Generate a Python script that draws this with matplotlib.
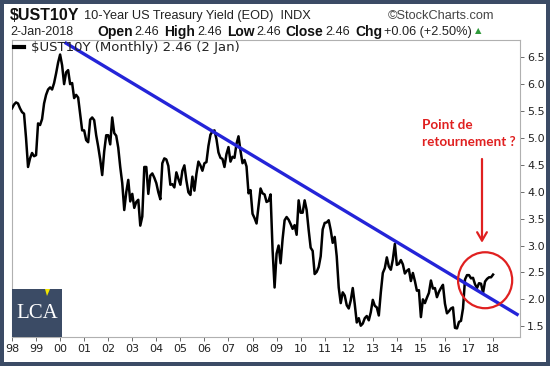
import numpy as np
import matplotlib
matplotlib.use("Agg")
import matplotlib.pyplot as plt
from matplotlib.patches import Ellipse, Rectangle, Polygon

# monthly closes of the 10 year yield, Jan 1998 .. Jan 2018
start_year = 1998
ust10y = [
    5.55, 5.62, 5.66, 5.64, 5.55, 5.48, 5.45, 5.00, 4.46, 4.62, 4.72, 4.66,  # 1998
    4.68, 5.27, 5.24, 5.35, 5.64, 5.80, 5.90, 5.94, 5.90, 6.02, 6.20, 6.40,  # 1999
    6.55, 6.35, 6.00, 6.22, 6.26, 6.00, 6.02, 5.74, 5.80, 5.75, 5.45, 5.14,  # 2000
    5.14, 4.96, 4.92, 5.34, 5.38, 5.33, 5.05, 4.84, 4.60, 4.31, 4.75, 5.05,  # 2001
    5.05, 4.88, 5.38, 5.09, 5.04, 4.82, 4.46, 4.16, 3.66, 3.99, 4.22, 3.82,  # 2002
    3.96, 3.70, 3.81, 3.85, 3.37, 3.54, 4.46, 4.46, 3.96, 4.30, 4.34, 4.26,  # 2003
    4.16, 3.99, 3.86, 4.53, 4.62, 4.60, 4.48, 4.13, 4.14, 4.08, 4.36, 4.24,  # 2004
    4.13, 4.39, 4.49, 4.21, 3.99, 3.94, 4.28, 4.02, 4.33, 4.56, 4.49, 4.39,  # 2005
    4.53, 4.55, 4.85, 5.06, 5.12, 5.14, 4.98, 4.73, 4.63, 4.61, 4.46, 4.70,  # 2006
    4.83, 4.56, 4.65, 4.63, 4.89, 5.03, 4.76, 4.53, 4.59, 4.47, 3.97, 4.03,  # 2007
    3.59, 3.51, 3.41, 3.73, 4.06, 3.97, 3.95, 3.81, 3.83, 3.95, 2.92, 2.22,  # 2008
    2.85, 3.00, 2.67, 3.12, 3.47, 3.53, 3.48, 3.40, 3.31, 3.38, 3.20, 3.84,  # 2009
    3.61, 3.61, 3.84, 3.66, 3.29, 2.96, 2.90, 2.47, 2.51, 2.60, 2.80, 3.30,  # 2010
    3.42, 3.43, 3.47, 3.29, 3.05, 3.16, 2.80, 2.22, 1.93, 2.13, 2.07, 1.89,  # 2011
    1.83, 1.98, 2.21, 1.91, 1.57, 1.65, 1.51, 1.55, 1.65, 1.69, 1.61, 1.76,  # 2012
    1.99, 1.88, 1.85, 1.70, 2.13, 2.49, 2.58, 2.78, 2.61, 2.55, 2.74, 3.03,  # 2013
    2.64, 2.66, 2.73, 2.65, 2.48, 2.53, 2.56, 2.34, 2.49, 2.34, 2.16, 2.17,  # 2014
    1.67, 2.00, 1.93, 2.03, 2.12, 2.35, 2.20, 2.21, 2.04, 2.14, 2.21, 2.27,  # 2015
    1.92, 1.74, 1.78, 1.83, 1.85, 1.47, 1.46, 1.58, 1.60, 1.83, 2.37, 2.45,  # 2016
    2.45, 2.39, 2.40, 2.28, 2.21, 2.30, 2.29, 2.12, 2.33, 2.38, 2.41, 2.41,  # 2017
    2.46,                                                                    # 2018
]

# hand drawn trend line (decimal year, yield)
trend_x = [2000.25, 2019.0]
trend_y = [6.76, 1.72]

year_ticks = list(range(1998, 2019))
year_labels = ['98', '99', '00', '01', '02', '03', '04', '05', '06', '07', '08',
               '09', '10', '11', '12', '13', '14', '15', '16', '17', '18']
yield_ticks = [1.5, 2.0, 2.5, 3.0, 3.5, 4.0, 4.5, 5.0, 5.5, 6.0, 6.5]

W, H = 550, 366
navy = '#3b4b65'
red = '#e02020'

fig = plt.figure(figsize=(W / 100, H / 100), dpi=100, facecolor=navy)
# white panel inside the dark frame
fig.patches.append(Rectangle((4 / W, 1 - 362 / H), 542 / W, 358 / H,
                             transform=fig.transFigure, facecolor='white',
                             edgecolor='none', zorder=-5))

ax = fig.add_axes([12 / W, 1 - 337 / H, 508 / W, 297 / H])
months = start_year + np.arange(len(ust10y)) / 12.0
ax.plot(months, ust10y, color='black', lw=1.8, solid_joinstyle='round', zorder=3)
ax.plot(trend_x, trend_y, color='#2424d8', lw=2.4, zorder=4)

ax.set_xlim(1998.0, 2019.12)
ax.set_ylim(1.30, 6.82)
ax.set_xticks(year_ticks)
ax.set_xticklabels(year_labels)
ax.set_yticks(yield_ticks)
ax.set_yticklabels([f'{v:.1f}' for v in yield_ticks])
ax.yaxis.tick_right()
ax.tick_params(axis='both', labelsize=8, colors='#555555', labelcolor='#222222',
               length=3, width=0.6, pad=2)
for s in ax.spines.values():
    s.set_color('#b0b0b0')
    s.set_linewidth(0.8)

# red circle + arrow + comment
ax.add_patch(Ellipse((2017.67, 2.355), 2.25, 1.04, fill=False, edgecolor=red,
                     lw=1.6, zorder=5))
ax.annotate('', xy=(2017.54, 3.0), xytext=(2017.54, 4.66),
            arrowprops=dict(arrowstyle='->,head_length=0.6,head_width=0.35',
                            color=red, lw=1.6))
fig.text(422 / W, 1 - 125 / H, 'Point de', color=red, fontsize=9.7,
         fontweight='bold', family='Lato', va='center')
fig.text(422 / W, 1 - 142 / H, 'retournement ?', color=red, fontsize=9.7,
         fontweight='bold', family='Lato', va='center')

renderer = fig.canvas.get_renderer()


def put(x, y, s, gap=0, **kw):
    t = fig.text(x / W, 1 - y / H, s, va='center', **kw)
    return t.get_window_extent(renderer).x1 + gap


# header line 1
x = put(10, 16, '$UST10Y', gap=4, fontsize=11.5, fontweight='bold',
        family='Liberation Sans', color='#111111')
put(x, 16, '10-Year US Treasury Yield (EOD)  INDX', fontsize=9.2,
    family='Liberation Sans', color='#222222')
fig.text(494 / W, 1 - 16 / H, '©StockCharts.com', ha='right', va='center',
         fontsize=9.2, family='Liberation Sans', color='#444444')

# header line 2
put(10, 32, '2-Jan-2018', fontsize=9, family='Liberation Sans', color='#222222')
x = 97
for lab, val in [('Open', '2.46'), ('High', '2.46'), ('Low', '2.46'),
                 ('Close', '2.46'), ('Chg', '+0.06 (+2.50%)')]:
    x = put(x, 32, lab, gap=2, fontsize=10, fontweight='bold',
            family='Liberation Sans', color='#111111')
    x = put(x, 32, val, gap=5, fontsize=9.2, family='Liberation Sans', color='#222222')
put(x - 2, 31, '▲', fontsize=6, color='#2e9a3a')

# in-plot legend
fig.lines.append(plt.Line2D([14 / W, 24 / W], [1 - 47 / H, 1 - 47 / H],
                            transform=fig.transFigure, color='black', lw=3))
put(31, 47, '$UST10Y (Monthly) 2.46 (2 Jan)', fontsize=9.5,
    family='DejaVu Sans', color='#222222')

# LCA logo
fig.patches.append(Rectangle((12 / W, 1 - 337 / H), 50 / W, 48 / H,
                             transform=fig.transFigure, facecolor=navy,
                             edgecolor='none', zorder=6))
fig.text(37.5 / W, 1 - 314 / H, 'LCA', color='white', fontsize=15,
         family='Liberation Serif', ha='center', va='center', zorder=7)
fig.patches.append(Polygon([(45 / W, 1 - 289 / H), (50 / W, 1 - 289 / H),
                            (47 / W, 1 - 296 / H)], closed=True,
                           transform=fig.transFigure, facecolor='#f2e600',
                           edgecolor='none', zorder=8))

fig.savefig('out.png', dpi=100, facecolor=navy)
